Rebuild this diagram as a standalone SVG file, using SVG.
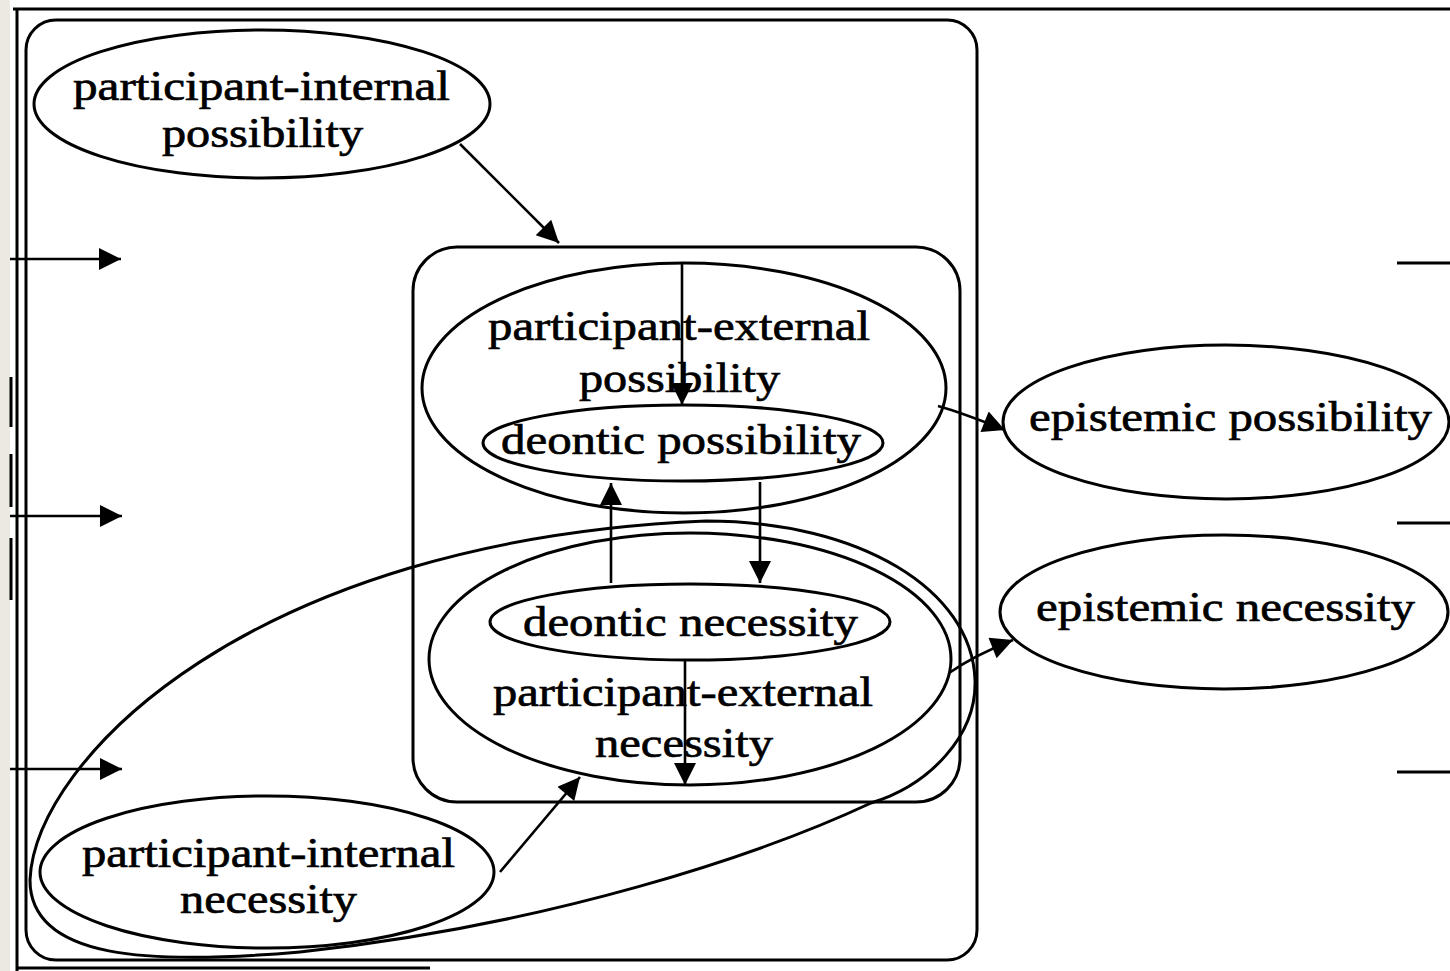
<svg xmlns="http://www.w3.org/2000/svg" width="1450" height="971" viewBox="0 0 1450 971">
<defs>
<style>
.ln{fill:none;stroke:#000;stroke-width:3}
.nd{fill:none;stroke:#000;stroke-width:3}
.cl{fill:none;stroke:#000;stroke-width:3}
.ed{fill:none;stroke:#000;stroke-width:2.6}
.tx{font-family:"Liberation Serif","Times New Roman",serif;font-size:43px;fill:#000;stroke:#000;stroke-width:0.7;text-anchor:middle}
</style>
<marker id="ah" viewBox="0 0 10 10" refX="10" refY="5" markerWidth="28" markerHeight="22" markerUnits="userSpaceOnUse" orient="auto">
<path d="M0,0 L10,5 L0,10 z" fill="#000"/>
</marker>
</defs>
<rect x="0" y="0" width="1450" height="971" fill="#fff"/>
<rect x="0" y="0" width="10" height="971" fill="#ece9e2"/>
<g id="frame">
<line class="ln" x1="13" y1="9" x2="1450" y2="9" stroke-width="3.5"/>
<line class="ln" x1="17" y1="8" x2="17" y2="971"/>
<line class="ln" x1="17" y1="968" x2="430" y2="968"/>
<line class="ln" x1="11" y1="377" x2="11" y2="427" stroke-width="2"/>
<line class="ln" x1="11" y1="454" x2="11" y2="507" stroke-width="2"/>
<line class="ln" x1="11" y1="538" x2="11" y2="600" stroke-width="2"/>
<line class="ln" x1="1397" y1="263" x2="1450" y2="263"/>
<line class="ln" x1="1397" y1="523" x2="1450" y2="523"/>
<line class="ln" x1="1397" y1="772" x2="1450" y2="772"/>
</g>
<g id="clusters">
<rect class="cl" x="26" y="20" width="951" height="940" rx="30" ry="30"/>
<rect class="cl" x="413" y="247" width="547" height="555" rx="44" ry="44"/>
<path class="cl" d="M706,521 C860,521 972,590 975,680 C977,735 930,785 871,803 C760,855 550,925 300,952 C150,965 30,960 30,880 C35,760 250,540 706,521 Z"/>
</g>
<g id="pip">
<ellipse class="nd" cx="262" cy="104" rx="228" ry="74"/>
<text class="tx" x="261.5" y="100" textLength="377" lengthAdjust="spacingAndGlyphs">participant-internal</text>
<text class="tx" x="262.5" y="147" textLength="201" lengthAdjust="spacingAndGlyphs">possibility</text>
</g>
<g id="pep">
<ellipse class="nd" cx="684" cy="388" rx="262" ry="125"/>
<text class="tx" x="679" y="340" textLength="382" lengthAdjust="spacingAndGlyphs">participant-external</text>
<text class="tx" x="679.5" y="392" textLength="201" lengthAdjust="spacingAndGlyphs">possibility</text>
</g>
<g id="dp">
<ellipse class="nd" cx="683" cy="443" rx="200" ry="38"/>
<text class="tx" x="681" y="454" textLength="360" lengthAdjust="spacingAndGlyphs">deontic possibility</text>
</g>
<g id="pen">
<ellipse class="nd" cx="690" cy="659" rx="261" ry="126"/>
<text class="tx" x="683" y="706" textLength="380" lengthAdjust="spacingAndGlyphs">participant-external</text>
<text class="tx" x="684" y="757" textLength="178" lengthAdjust="spacingAndGlyphs">necessity</text>
</g>
<g id="dn">
<ellipse class="nd" cx="690" cy="622" rx="200" ry="38"/>
<text class="tx" x="690.5" y="636" textLength="335" lengthAdjust="spacingAndGlyphs">deontic necessity</text>
</g>
<g id="pin">
<ellipse class="nd" cx="267" cy="872" rx="227" ry="76"/>
<text class="tx" x="268.5" y="867" textLength="373" lengthAdjust="spacingAndGlyphs">participant-internal</text>
<text class="tx" x="268.5" y="913" textLength="177" lengthAdjust="spacingAndGlyphs">necessity</text>
</g>
<g id="ep">
<ellipse class="nd" cx="1226" cy="422" rx="223" ry="77"/>
<text class="tx" x="1230.5" y="431" textLength="403" lengthAdjust="spacingAndGlyphs">epistemic possibility</text>
</g>
<g id="en">
<ellipse class="nd" cx="1224" cy="612" rx="224" ry="77"/>
<text class="tx" x="1225.5" y="621" textLength="379" lengthAdjust="spacingAndGlyphs">epistemic necessity</text>
</g>
<g id="connectors">
<line class="ed" x1="10" y1="259" x2="121" y2="259" marker-end="url(#ah)"/>
<line class="ed" x1="10" y1="516" x2="122" y2="516" marker-end="url(#ah)"/>
<line class="ed" x1="10" y1="769" x2="122" y2="769" marker-end="url(#ah)"/>
<line class="ed" x1="460" y1="144" x2="559" y2="243" marker-end="url(#ah)"/>
<line class="ed" x1="682" y1="263" x2="682" y2="405" marker-end="url(#ah)"/>
<line class="ed" x1="611" y1="583" x2="611" y2="483" marker-end="url(#ah)"/>
<line class="ed" x1="760" y1="482" x2="760" y2="583" marker-end="url(#ah)"/>
<line class="ed" x1="685" y1="660" x2="685" y2="785" marker-end="url(#ah)"/>
<line class="ed" x1="500" y1="872" x2="580" y2="777" marker-end="url(#ah)"/>
<path class="ed" d="M938,406 Q960,412 1005,430" marker-end="url(#ah)"/>
<path class="ed" d="M949,673 Q975,655 1013,640" marker-end="url(#ah)"/>
</g>
</svg>
